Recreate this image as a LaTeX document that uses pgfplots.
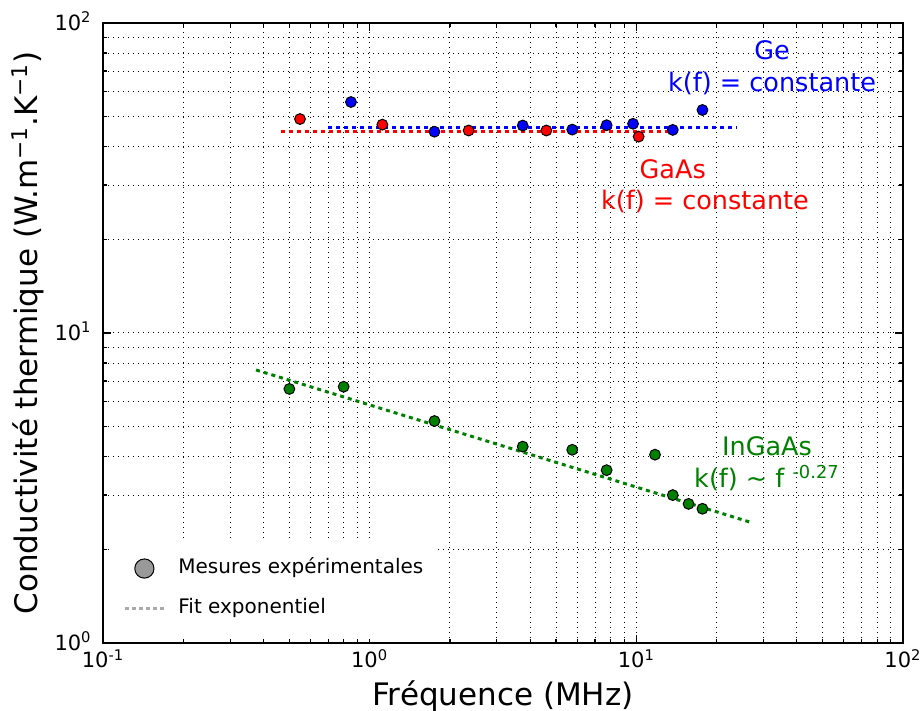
\documentclass[border=0pt]{standalone}
\usepackage{fontspec}
\setmainfont{DejaVu Sans}
\usepackage{pgfplots}
\pgfplotsset{compat=1.18}

\definecolor{mgreen}{RGB}{0,128,0}
\definecolor{leggray}{RGB}{153,153,153}
\definecolor{fitgray}{RGB}{170,170,170}

\begin{document}
\begin{tikzpicture}
\begin{axis}[
    at={(0,0)}, anchor=south west,
    scale only axis, width=400pt, height=310pt,
    xmode=log, ymode=log,
    xmin=0.1, xmax=100, ymin=1, ymax=100,
    xtick={0.1,1,10,100},
    xticklabels={10\textsuperscript{-1},10\textsuperscript{0},10\textsuperscript{1},10\textsuperscript{2}},
    ytick={1,10,100},
    yticklabels={10\textsuperscript{0},10\textsuperscript{1},10\textsuperscript{2}},
    minor xtick={0.2,0.3,0.4,0.5,0.6,0.7,0.8,0.9,2,3,4,5,6,7,8,9,20,30,40,50,60,70,80,90},
    minor ytick={2,3,4,5,6,7,8,9,20,30,40,50,60,70,80,90},
    tick align=inside,
    major tick length=4pt, minor tick length=2pt,
    tick style={black, line width=0.6pt},
    axis line style={black, line width=0.8pt},
    grid=both,
    major grid style={black, line width=0.5pt, dash pattern=on 0.5pt off 2pt},
    minor grid style={black, line width=0.5pt, dash pattern=on 0.5pt off 2pt},
    ticklabel style={font=\fontsize{10.5}{12}\selectfont},
    xticklabel style={anchor=base, inner sep=0pt, yshift=-12.5pt},
    yticklabel style={anchor=base east, inner sep=0pt, xshift=-5.5pt, yshift=-3.8pt},
    xlabel={Fréquence (MHz)},
    ylabel={Conductivité thermique (W.m\textsuperscript{−1}.K\textsuperscript{−1})},
    xlabel style={at={(axis description cs:0.5,-0.1)}, anchor=base, font=\fontsize{15.5}{18}\selectfont},
    ylabel style={at={(axis description cs:-0.08125,0.5)}, anchor=base, font=\fontsize{15.5}{18}\selectfont},
    legend style={at={(axis description cs:0.01,0.0064)}, anchor=south west,
        draw=none, fill=white, inner xsep=6pt, inner ysep=10pt,
        row sep=10pt, column sep=6.5pt,
        font=\fontsize{10}{12}\selectfont,
        nodes={inner sep=0pt, text height=7.5pt, text depth=2.5pt}},
    legend cell align=left,
]

% legend entries
\addlegendimage{legend image code/.code={\draw[fill=leggray, draw=black, line width=0.5pt] (9.75pt,0pt) circle (4.8pt);}}
\addlegendentry{Mesures expérimentales}
\addlegendimage{legend image code/.code={\draw[fitgray, line width=1.5pt, dash pattern=on 2pt off 1.5pt] (0pt,0pt) -- (19.5pt,0pt);}}
\addlegendentry{Fit exponentiel}

% fits
\addplot[forget plot, blue, line width=1.5pt, dash pattern=on 2pt off 2pt]
    coordinates {(0.70,45.9) (23.8,45.9)};
\addplot[forget plot, red, line width=1.5pt, dash pattern=on 2pt off 2pt]
    coordinates {(0.465,44.6) (13.5,44.6)};
\addplot[forget plot, mgreen, line width=1.5pt, dash pattern=on 2pt off 2pt]
    coordinates {(0.375,7.60) (27.3,2.44)};

% Ge
\addplot[forget plot, only marks, mark=*, mark size=2.7pt, mark options={draw=black, fill=blue, line width=0.5pt}]
    coordinates {(0.851,55.6) (1.75,44.6) (3.75,46.7) (5.75,45.3) (7.74,46.8) (9.72,47.3) (13.7,45.2) (17.7,52.4)};
% GaAs
\addplot[forget plot, only marks, mark=*, mark size=2.7pt, mark options={draw=black, fill=red, line width=0.5pt}]
    coordinates {(0.548,49.0) (1.116,47.0) (2.35,45.0) (4.60,45.0) (10.2,43.0)};
% InGaAs
\addplot[forget plot, only marks, mark=*, mark size=2.7pt, mark options={draw=black, fill=mgreen, line width=0.5pt}]
    coordinates {(0.50,6.60) (0.799,6.71) (1.75,5.20) (3.75,4.30) (5.75,4.20) (7.74,3.61) (11.75,4.05) (13.7,3.00) (15.7,2.81) (17.7,2.71)};

% annotations
\node[anchor=base, text=blue, font=\fontsize{12.75}{15}\selectfont] at (axis cs:32.3,76.0) {Ge};
\node[anchor=base, text=blue, font=\fontsize{12.75}{15}\selectfont] at (axis cs:32.3,60.0) {k(f) = constante};
\node[anchor=base, text=red, font=\fontsize{12.75}{15}\selectfont] at (axis cs:13.7,31.6) {GaAs};
\node[anchor=base, text=red, font=\fontsize{12.75}{15}\selectfont] at (axis cs:18.1,25.1) {k(f) = constante};
\node[anchor=base, text=mgreen, font=\fontsize{12.75}{15}\selectfont] at (axis cs:30.9,4.04) {InGaAs};
\node[anchor=base, text=mgreen, font=\fontsize{12.75}{15}\selectfont] at (axis cs:30.9,3.18) {k(f) \textasciitilde{} f \textsuperscript{-0.27}};

\end{axis}
\pgfresetboundingbox
\path (-51.5pt,-34pt) rectangle (409pt,321.5pt);
\end{tikzpicture}
\end{document}
